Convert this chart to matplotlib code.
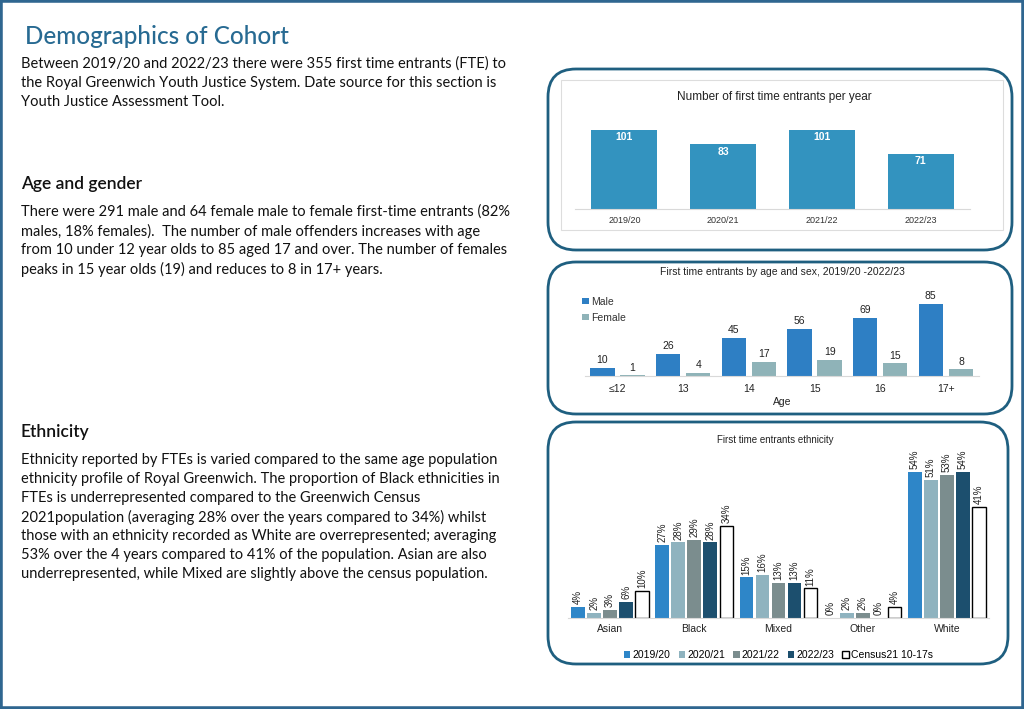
import numpy as np
import matplotlib.pyplot as plt
from matplotlib.patches import FancyBboxPatch, Rectangle

# data
years = ['2019/20', '2020/21', '2021/22', '2022/23']
fte_per_year = [101, 83, 101, 71]

ages = ['≤12', '13', '14', '15', '16', '17+']
male = [10, 26, 45, 56, 69, 85]
female = [1, 4, 17, 19, 15, 8]

ethnic_groups = ['Asian', 'Black', 'Mixed', 'Other', 'White']
eth_series = ['2019/20', '2020/21', '2021/22', '2022/23', 'Census21 10-17s']
eth_2019 = [4, 27, 15, 0, 54]
eth_2020 = [2, 28, 16, 2, 51]
eth_2021 = [3, 29, 13, 2, 53]
eth_2022 = [6, 28, 13, 0, 54]
eth_census = [10, 34, 11, 4, 41]

intro = ["Between 2019/20 and 2022/23 there were 355 first time entrants (FTE) to",
         "the Royal Greenwich Youth Justice System. Date source for this section is",
         "Youth Justice Assessment Tool."]
age_text = ["There were 291 male and 64 female male to female first-time entrants (82%",
            "males, 18% females).  The number of male offenders increases with age",
            "from 10 under 12 year olds to 85 aged 17 and over. The number of females",
            "peaks in 15 year olds (19) and reduces to 8 in 17+ years."]
eth_text = ["Ethnicity reported by FTEs is varied compared to the same age population",
            "ethnicity profile of Royal Greenwich. The proportion of Black ethnicities in",
            "FTEs is underrepresented compared to the Greenwich Census",
            "2021population (averaging 28% over the years compared to 34%) whilst",
            "those with an ethnicity recorded as White are overrepresented; averaging",
            "53% over the 4 years compared to 41% of the population. Asian are also",
            "underrepresented, while Mixed are slightly above the census population."]

W, H = 1024, 709
fig = plt.figure(figsize=(W / 100, H / 100), dpi=100)
plt.rcParams['font.family'] = ['Liberation Sans', 'DejaVu Sans']


def fx(x):
    return x / W


def fy(y):
    return 1 - y / H


def axes_px(left, top, right, bottom):
    return fig.add_axes([fx(left), fy(bottom), (right - left) / W, (bottom - top) / H])


# page frame
fig.patches.append(Rectangle((0, 0), 1, 1, transform=fig.transFigure, fill=False,
                             edgecolor='#2f6690', lw=4))

# left text column
body_font = ['Lato', 'DejaVu Sans']
fig.text(fx(25), fy(37), 'Demographics of Cohort', color='#276a92', fontsize=17.5,
         family=body_font, weight='medium', va='center')
for i, line in enumerate(intro):
    fig.text(fx(21), fy(64 + 19 * i), line, fontsize=10.5, family=body_font, va='center', color='#111111')

fig.text(fx(21), fy(184), 'Age and gender', fontsize=12.5, family=body_font, weight='semibold', va='center', color='#111111')
for i, line in enumerate(age_text):
    fig.text(fx(21), fy(212 + 19 * i), line, fontsize=10.5, family=body_font, va='center', color='#111111')

fig.text(fx(21), fy(432), 'Ethnicity', fontsize=12.5, family=body_font, weight='semibold', va='center', color='#111111')
for i, line in enumerate(eth_text):
    fig.text(fx(21), fy(460 + 19 * i), line, fontsize=10.5, family=body_font, va='center', color='#111111')


# rounded boxes around the charts (in inches)
def rbox(left, top, right, bottom):
    p = FancyBboxPatch((left / 100, (H - bottom) / 100), (right - left) / 100, (bottom - top) / 100,
                       boxstyle='round,pad=0,rounding_size=0.28', transform=fig.dpi_scale_trans,
                       fill=False, edgecolor='#1f5f80', lw=2)
    fig.patches.append(p)


rbox(548, 69, 1012, 250)
rbox(548, 262, 1012, 414)
rbox(548, 422, 1008, 664)

# chart 1: first time entrants per year
fig.patches.append(Rectangle((fx(561), fy(230)), (1003 - 561) / W, (230 - 80) / H,
                             transform=fig.transFigure, fill=False, edgecolor='#dddddd', lw=0.8))
fig.text(fx(774), fy(97), 'Number of first time entrants per year', ha='center', va='center', fontsize=8.5, color='#222222')
ax1 = axes_px(575, 120, 970, 209)
x = np.arange(len(years))
ax1.bar(x, fte_per_year, width=0.67, color='#3393bf')
for xi, v in zip(x, fte_per_year):
    ax1.text(xi, v - 3, str(v), ha='center', va='top', color='white', fontsize=7.5, weight='bold')
ax1.set_xlim(-0.5, 3.5)
ax1.set_ylim(0, 114)
ax1.set_xticks(x)
ax1.set_xticklabels(years, fontsize=6.5, color='#333333')
ax1.tick_params(length=0, pad=5)
ax1.set_yticks([])
for s in ['top', 'right', 'left']:
    ax1.spines[s].set_visible(False)
ax1.spines['bottom'].set_color('#d9d9d9')
ax1.patch.set_visible(False)

# chart 2: age and sex
fig.text(fx(782), fy(272), 'First time entrants by age and sex, 2019/20 -2022/23', ha='center', va='center',
         fontsize=7.5, color='#222222')
ax2 = axes_px(585, 282, 979, 376)
x = np.arange(len(ages))
ax2.bar(x - 0.235, male, width=0.37, color='#2e7fc4', label='Male')
ax2.bar(x + 0.225, female, width=0.37, color='#8fb3b8', label='Female')
for xi, m, f in zip(x, male, female):
    ax2.text(xi - 0.235, m + 3, str(m), ha='center', va='bottom', fontsize=7.5, color='#222222')
    ax2.text(xi + 0.225, f + 3, str(f), ha='center', va='bottom', fontsize=7.5, color='#222222')
ax2.set_xlim(-0.5, 5.5)
ax2.set_ylim(0, 111)
ax2.set_xticks(x)
ax2.set_xticklabels(ages, fontsize=7.5, color='#222222')
ax2.tick_params(length=0, pad=6)
ax2.set_yticks([])
ax2.set_xlabel('Age', fontsize=7.5, color='#222222', labelpad=2)
for s in ['top', 'right', 'left']:
    ax2.spines[s].set_visible(False)
ax2.spines['bottom'].set_color('#d9d9d9')
ax2.patch.set_visible(False)
ax2.legend(loc='upper left', bbox_to_anchor=(-0.025, 0.92), frameon=False, fontsize=7.5, handlelength=0.6,
           handleheight=0.6, handletextpad=0.2, labelspacing=0.55, labelcolor='#333333', borderpad=0.2)

# chart 3: ethnicity
fig.text(fx(775), fy(440), 'First time entrants ethnicity', ha='center', va='center', fontsize=7, color='#222222')
ax3 = axes_px(568, 445, 989, 618)
x = np.arange(len(ethnic_groups))
eth_values = [eth_2019, eth_2020, eth_2021, eth_2022, eth_census]
eth_colors = ['#2e86c8', '#8fb3bf', '#7b8d8e', '#1c4f6e', 'white']
step = 0.19
for k, (vals, col, lab) in enumerate(zip(eth_values, eth_colors, eth_series)):
    pos = x + (k - 2) * step
    if lab.startswith('Census'):
        ax3.bar(pos, vals, width=0.16, color=col, edgecolor='black', lw=1, label=lab)
    else:
        ax3.bar(pos, vals, width=0.166, color=col, label=lab)
    for p, v in zip(pos, vals):
        ax3.text(p, v + 1, f'{v}%', rotation=90, ha='center', va='bottom', fontsize=7, color='#222222')
ax3.set_xlim(-0.5, 4.5)
ax3.set_ylim(0, 64)
ax3.set_xticks(x)
ax3.set_xticklabels(ethnic_groups, fontsize=7.5, color='#222222')
ax3.tick_params(length=0, pad=4)
ax3.set_yticks([])
for s in ['top', 'right', 'left']:
    ax3.spines[s].set_visible(False)
ax3.spines['bottom'].set_color('#d9d9d9')
ax3.patch.set_visible(False)
ax3.legend(loc='upper center', bbox_to_anchor=(0.5, -0.13), ncol=5, frameon=False, fontsize=7.5,
           handlelength=0.6, handleheight=0.6, handletextpad=0.2, columnspacing=0.8)

fig.savefig('out.png', dpi=100)
